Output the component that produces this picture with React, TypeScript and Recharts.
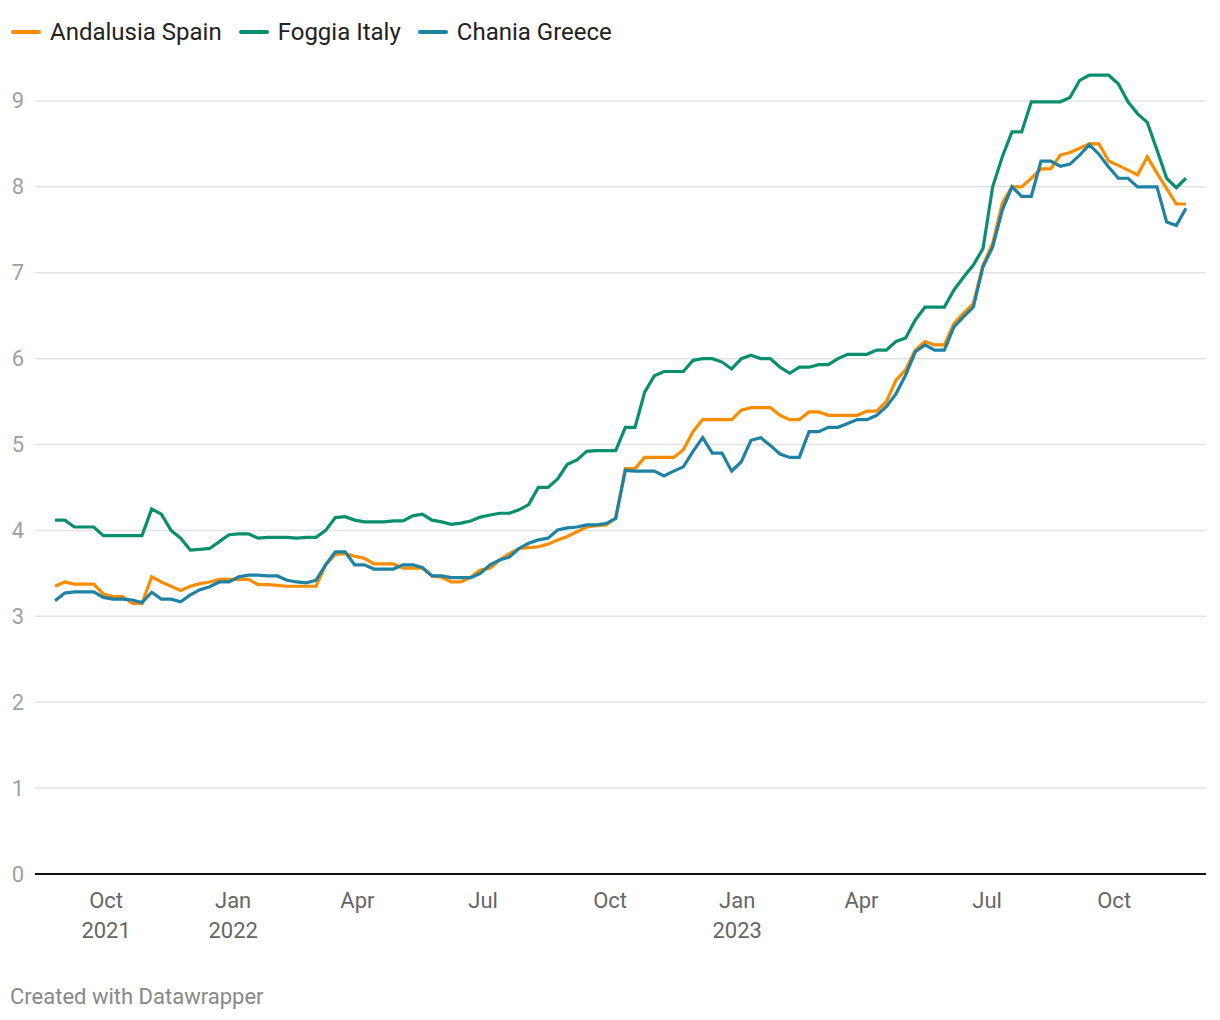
import React from "react";
import { LineChart, Line, XAxis, YAxis, CartesianGrid } from "recharts";

const START_DATE = "2021-08-25";
const WEEK_COUNT = 118;

const andalusia = [
  3.35, 3.4, 3.375, 3.375, 3.375, 3.26, 3.23, 3.23, 3.15, 3.15,
  3.46, 3.4, 3.35, 3.3, 3.35, 3.38, 3.4, 3.43, 3.43, 3.43,
  3.43, 3.37, 3.37, 3.36, 3.35, 3.35, 3.35, 3.35, 3.6, 3.72,
  3.73, 3.7, 3.675, 3.61, 3.61, 3.61, 3.56, 3.56, 3.56, 3.47,
  3.455, 3.4, 3.4, 3.455, 3.54, 3.56, 3.655, 3.73, 3.79, 3.8,
  3.81, 3.84, 3.89, 3.93, 3.985, 4.04, 4.055, 4.065, 4.14, 4.72,
  4.72, 4.85, 4.85, 4.85, 4.85, 4.94, 5.15, 5.29, 5.29, 5.29,
  5.29, 5.4, 5.43, 5.43, 5.43, 5.34, 5.29, 5.29, 5.38, 5.38,
  5.34, 5.34, 5.34, 5.34, 5.39, 5.39, 5.5, 5.75, 5.87, 6.1,
  6.2, 6.16, 6.16, 6.41, 6.53, 6.64, 7.09, 7.34, 7.81, 8.0,
  8.0, 8.1, 8.21, 8.21, 8.37, 8.4, 8.45, 8.5, 8.5, 8.3,
  8.25, 8.195, 8.14, 8.35, 8.16, 7.98, 7.8, 7.8,
];

const foggia = [
  4.12, 4.12, 4.04, 4.04, 4.04, 3.94, 3.94, 3.94, 3.94, 3.94,
  4.25, 4.19, 4.0, 3.91, 3.77, 3.78, 3.79, 3.87, 3.95, 3.96,
  3.96, 3.91, 3.92, 3.92, 3.92, 3.91, 3.92, 3.92, 4.0, 4.15,
  4.16, 4.12, 4.1, 4.1, 4.1, 4.11, 4.11, 4.17, 4.19, 4.12,
  4.1, 4.07, 4.085, 4.11, 4.155, 4.18, 4.2, 4.2, 4.24, 4.3,
  4.5, 4.5, 4.6, 4.77, 4.82, 4.92, 4.93, 4.93, 4.93, 5.2,
  5.2, 5.61, 5.8, 5.85, 5.85, 5.85, 5.98, 6.0, 6.0, 5.96,
  5.88, 6.0, 6.04, 6.0, 6.0, 5.9, 5.83, 5.9, 5.9, 5.93,
  5.93, 6.0, 6.05, 6.05, 6.05, 6.1, 6.1, 6.2, 6.24, 6.45,
  6.6, 6.6, 6.6, 6.8, 6.95, 7.09, 7.28, 8.0, 8.35, 8.64,
  8.64, 8.99, 8.99, 8.99, 8.99, 9.04, 9.24, 9.3, 9.3, 9.3,
  9.2, 8.99, 8.85, 8.75, 8.43, 8.1, 7.99, 8.1,
];

const chania = [
  3.18, 3.27, 3.285, 3.285, 3.285, 3.22, 3.2, 3.2, 3.19, 3.16,
  3.28, 3.2, 3.2, 3.17, 3.25, 3.31, 3.345, 3.4, 3.4, 3.46,
  3.48, 3.48, 3.47, 3.47, 3.42, 3.4, 3.39, 3.42, 3.6, 3.75,
  3.75, 3.6, 3.6, 3.55, 3.55, 3.55, 3.6, 3.6, 3.57, 3.47,
  3.47, 3.45, 3.45, 3.45, 3.5, 3.6, 3.655, 3.69, 3.79, 3.85,
  3.89, 3.91, 4.005, 4.03, 4.04, 4.065, 4.065, 4.08, 4.14, 4.7,
  4.69, 4.69, 4.69, 4.635, 4.69, 4.74, 4.92, 5.08, 4.9, 4.9,
  4.69, 4.8, 5.05, 5.08, 4.99, 4.89, 4.85, 4.85, 5.15, 5.15,
  5.2, 5.2, 5.245, 5.29, 5.29, 5.34, 5.44, 5.59, 5.81, 6.08,
  6.16, 6.1, 6.1, 6.37, 6.49, 6.6, 7.07, 7.3, 7.73, 8.0,
  7.89, 7.89, 8.3, 8.3, 8.24, 8.265, 8.37, 8.49, 8.38, 8.23,
  8.1, 8.1, 8.0, 8.0, 8.0, 7.59, 7.55, 7.75,
];

const seriesNames = ["Andalusia Spain", "Foggia Italy", "Chania Greece"];
const seriesColors = ["#fa8c00", "#0a8f6e", "#1f82a4"];

const xTickDates = [
  "2021-10-01", "2022-01-01", "2022-04-01", "2022-07-01", "2022-10-01",
  "2023-01-01", "2023-04-01", "2023-07-01", "2023-10-01",
];
const xTickMonths = ["Oct", "Jan", "Apr", "Jul", "Oct", "Jan", "Apr", "Jul", "Oct"];
const xTickYears = ["2021", "2022", "", "", "", "2023", "", "", ""];
const yTicks = [0, 1, 2, 3, 4, 5, 6, 7, 8, 9];

const DAY = 86400000;
const toDay = (s: string) => Date.parse(s + "T00:00:00Z") / DAY;
const startDay = toDay(START_DATE);

const data = Array.from({ length: WEEK_COUNT }, (_, i) => ({
  t: startDay + i * 7,
  andalusia: andalusia[i],
  foggia: foggia[i],
  chania: chania[i],
}));

const xTicks = xTickDates.map(toDay);
const endDay = startDay + (WEEK_COUNT - 1) * 7;

const FONT = "Roboto, 'Noto Sans', sans-serif";

const XTick = (props: any) => {
  const { x, y, payload } = props;
  const idx = xTicks.indexOf(payload.value);
  return (
    <g>
      <text x={x} y={y + 18} textAnchor="middle" dominantBaseline="central" fill="#666" fontSize={22} fontFamily={FONT}>
        {xTickMonths[idx]}
      </text>
      {xTickYears[idx] ? (
        <text x={x} y={y + 48} textAnchor="middle" dominantBaseline="central" fill="#666" fontSize={22} fontFamily={FONT}>
          {xTickYears[idx]}
        </text>
      ) : null}
    </g>
  );
};

const YTick = (props: any) => {
  const { y, payload } = props;
  return (
    <text x={24} y={y} textAnchor="end" dominantBaseline="central" fill="#a0a0a0" fontSize={22} fontFamily={FONT}>
      {payload.value}
    </text>
  );
};

export default function App() {
  return (
    <div style={{ position: "absolute", left: 0, top: 0, width: 1220, height: 1020, background: "#fff" }}>
      <div
        style={{
          position: "absolute",
          left: 11,
          top: 17,
          height: 30,
          display: "flex",
          alignItems: "center",
          fontFamily: FONT,
          fontSize: 24,
          color: "#222",
          whiteSpace: "nowrap",
        }}
      >
        {seriesNames.map((n, i) => (
          <div key={n} style={{ display: "flex", alignItems: "center", marginRight: 17 }}>
            <span
              style={{
                display: "inline-block",
                width: 30,
                height: 4,
                borderRadius: 2,
                background: seriesColors[i],
                marginRight: 9,
              }}
            />
            <span>{n}</span>
          </div>
        ))}
      </div>
      <LineChart width={1220} height={1020} data={data} margin={{ top: 58, right: 14, bottom: 66, left: 0 }}>
        <CartesianGrid vertical={false} horizontalValues={yTicks} stroke="#e3e3e3" strokeWidth={1.5} />
        <XAxis
          dataKey="t"
          type="number"
          domain={[startDay - 14.5, endDay + 14.5]}
          ticks={xTicks}
          tick={<XTick />}
          tickLine={false}
          axisLine={{ stroke: "#111", strokeWidth: 2 }}
          height={80}
          interval={0}
        />
        <YAxis
          type="number"
          domain={[0, 9.5]}
          ticks={yTicks}
          tick={<YTick />}
          tickLine={false}
          axisLine={false}
          width={35}
          interval={0}
        />
        <Line dataKey="andalusia" stroke={seriesColors[0]} strokeWidth={3.2} dot={false} isAnimationActive={false} />
        <Line dataKey="foggia" stroke={seriesColors[1]} strokeWidth={3.2} dot={false} isAnimationActive={false} />
        <Line dataKey="chania" stroke={seriesColors[2]} strokeWidth={3.2} dot={false} isAnimationActive={false} />
      </LineChart>
      <div style={{ position: "absolute", left: 10, top: 984, fontFamily: FONT, fontSize: 22, color: "#888", lineHeight: "26px" }}>
        Created with Datawrapper
      </div>
    </div>
  );
}
